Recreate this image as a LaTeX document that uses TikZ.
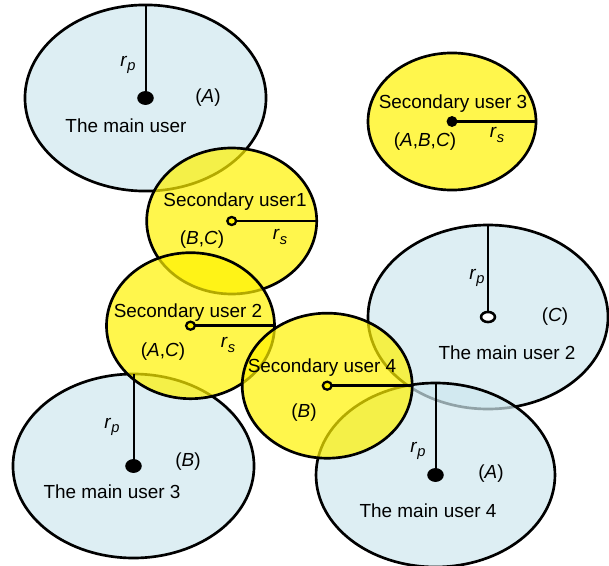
\documentclass[tikz,border=0pt]{standalone}
\usepackage{fontspec}
\setmainfont{Liberation Sans}
\begin{document}
\begin{tikzpicture}[x=0.75pt,y=-0.75pt,
  font=\fontsize{14.2}{17}\selectfont,
  prim/.style={fill={rgb,255:red,206;green,231;blue,238}, fill opacity=0.7, draw=black, line width=2pt},
  secd/.style={fill=yellow, fill opacity=0.7, draw=black, line width=2pt},
  prad/.style={line width=1.5pt},
  srad/.style={line width=2.2pt},
  lbl/.style={inner sep=0pt},
  fdot/.style={fill=black},
  odot/.style={fill=white, draw=black, line width=1.9pt},
  sodot/.style={fill=yellow, draw=black, line width=1.7pt}]
\useasboundingbox (0,0) rectangle (609,566);
% centres
\coordinate (cA) at (145.5,98);
\coordinate (c2) at (488,317);
\coordinate (c3) at (133.5,466);
\coordinate (c4) at (435.5,475);
\coordinate (s1) at (231.7,221);
\coordinate (s2) at (190.5,325.7);
\coordinate (s3) at (452,121.5);
\coordinate (s4) at (327.2,385.7);
% radius end points
\coordinate (tA) at (145.5,5);
\coordinate (t2) at (488,225);
\coordinate (t3) at (133.5,374);
\coordinate (t4) at (435.5,383);
\coordinate (e1) at (316.7,221);
\coordinate (e2) at (275,325.7);
\coordinate (e3) at (536,121.5);
\coordinate (e4) at (412.5,385.7);
% primary areas
\path[prim] (cA) ellipse [x radius=90.4pt, y radius=69.8pt];
\path[prim] (c2) ellipse [x radius=90pt, y radius=69pt];
\path[prim] (c3) ellipse [x radius=90.4pt, y radius=69pt];
\path[prim] (c4) ellipse [x radius=89.6pt, y radius=69pt];
% secondary areas
\path[secd] (s1) ellipse [x radius=63.75pt, y radius=54.75pt];
\path[secd] (s3) ellipse [x radius=63pt, y radius=51.4pt];
\path[secd] (s2) ellipse [x radius=63pt, y radius=54.75pt];
\path[secd] (s4) ellipse [x radius=63.75pt, y radius=54.4pt];
% radii
\draw[prad] (tA) -- (cA);
\draw[prad] (t2) -- (c2);
\draw[prad] (t3) -- (c3);
\draw[prad] (t4) -- (c4);
\draw[srad] (s1) -- (e1);
\draw[srad] (s2) -- (e2);
\draw[srad] (s3) -- (e3);
\draw[srad] (s4) -- (e4);
% dots
\path[fdot] (cA) ellipse [x radius=6.2pt, y radius=5.2pt];
\path[odot] (c2) ellipse [x radius=5.2pt, y radius=3.8pt];
\path[fdot] (c3) ellipse [x radius=6.2pt, y radius=5.2pt];
\path[fdot] (c4) ellipse [x radius=6.2pt, y radius=5.2pt];
\path[sodot] (s1) ellipse [x radius=3.3pt, y radius=3pt];
\path[sodot] (s2) ellipse [x radius=3.3pt, y radius=3pt];
\path[fdot] (s3) circle [radius=4.1pt];
\path[sodot] (s4) ellipse [x radius=3.3pt, y radius=3pt];
% labels
\newcommand{\rp}{\textit{r}\raisebox{-0.45ex}{\fontsize{11}{12}\selectfont\textit{p}}}
\newcommand{\rs}{\textit{r}\raisebox{-0.45ex}{\fontsize{11}{12}\selectfont\textit{s}}}
\node[lbl] (lA1) at (128,65) {\rp};
\node[lbl] (lA2) at (208,98) {(\textit{A})};
\node[lbl] (lA3) at (126,126) {The main user};
\node[lbl] (l21) at (477,278) {\rp};
\node[lbl] (l22) at (555,317) {(\textit{C})};
\node[lbl] (l23) at (507,353) {The main user 2};
\node[lbl] (l31) at (112,427) {\rp};
\node[lbl] (l32) at (188,462) {(\textit{B})};
\node[lbl] (l33) at (112,492) {The main user 3};
\node[lbl] (l41) at (418,451) {\rp};
\node[lbl] (l42) at (491,474) {(\textit{A})};
\node[lbl] (l43) at (428,511) {The main user 4};
\node[lbl] (m11) at (235,202) {Secondary user1};
\node[lbl] (m12) at (202,240) {(\textit{B},\textit{C})};
\node[lbl] (m13) at (280,237) {\rs};
\node[lbl] (m21) at (188,313) {Secondary user 2};
\node[lbl] (m22) at (163,352) {(\textit{A},\textit{C})};
\node[lbl] (m23) at (228,345) {\rs};
\node[lbl] (m31) at (453,104) {Secondary user 3};
\node[lbl] (m32) at (425,142) {(\textit{A},\textit{B},\textit{C})};
\node[lbl] (m33) at (497,135) {\rs};
\node[lbl] (m41) at (322,368) {Secondary user 4};
\node[lbl] (m42) at (304,413) {(\textit{B})};
\end{tikzpicture}
\end{document}
